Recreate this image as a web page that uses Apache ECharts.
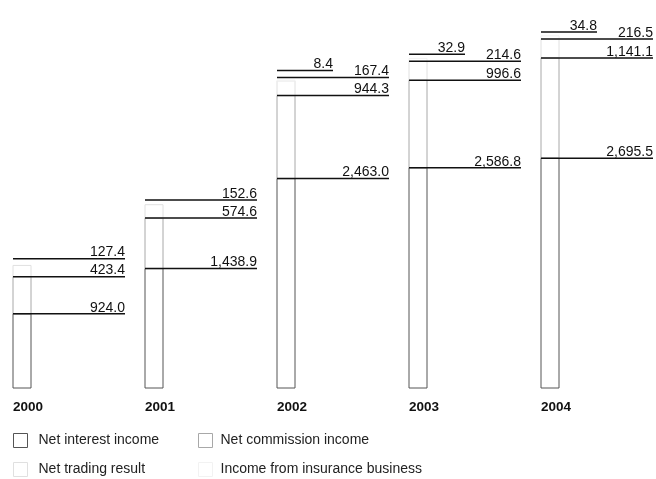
<!DOCTYPE html>
<html>
<head>
<meta charset="utf-8">
<script src="https://cdn.jsdelivr.net/npm/echarts@6/dist/echarts.min.js"></script>
<style>
html,body{margin:0;padding:0;background:#fff;}
#chart{width:656px;height:479px;}
</style>
</head>
<body>
<div id="chart"></div>
<script>
// ---- data ----
const years = ['2000', '2001', '2002', '2003', '2004'];
const netInterestIncome = [924.0, 1438.9, 2463.0, 2586.8, 2695.5];
const netCommissionIncome = [423.4, 574.6, 944.3, 996.6, 1141.1];
const netTradingResult = [127.4, 152.6, 167.4, 214.6, 216.5];
const insuranceIncome = [null, null, 8.4, 32.9, 34.8];
const seriesNames = ['Net interest income', 'Net commission income', 'Net trading result', 'Income from insurance business'];

// ---- presentation ----
const FONT = '"Liberation Sans", Arial, sans-serif';
const Y_MIN = 80, Y_MAX = 4450;
const BAR_W = 18;
const LINE_LEN = 112, SHORT_LEN = 56;
const GAP = 18, SMALL_GAP = 7;
const strokes = ['#555555', '#a8a8a8', '#e0e0e0', '#f2f2f2'];
const allSeries = [netInterestIncome, netCommissionIncome, netTradingResult, insuranceIncome];

function fmt(v) {
  const parts = v.toFixed(1).split('.');
  parts[0] = parts[0].replace(/\B(?=(\d{3})+(?!\d))/g, ',');
  return parts.join('.');
}

function segData(s) {
  const out = [];
  years.forEach((y, i) => {
    const v = allSeries[s][i];
    if (v == null) return;
    let base = 0;
    for (let k = 0; k < s; k++) base += allSeries[k][i] || 0;
    out.push([i, base, base + v]);
  });
  return out;
}

function segRender(s) {
  return function (params, api) {
    const i = api.value(0);
    const p0 = api.coord([i, Math.max(api.value(1), Y_MIN)]);
    const p1 = api.coord([i, api.value(2)]);
    return {
      type: 'rect',
      shape: { x: p0[0], y: p1[1], width: BAR_W, height: p0[1] - p1[1] },
      style: { fill: '#ffffff', stroke: strokes[s], lineWidth: 1 }
    };
  };
}

function labelRender(params, api) {
  const i = api.value(0);
  const children = [];
  let cum = 0;
  let prevY = null;
  allSeries.forEach((arr, s) => {
    const v = arr[i];
    if (v == null) return;
    cum += v;
    const p = api.coord([i, cum]);
    let y = p[1];
    if (prevY != null) {
      const g = s === 3 ? SMALL_GAP : GAP;
      y = Math.min(y, prevY - g);
    }
    prevY = y;
    const x0 = p[0];
    const len = s === 3 ? SHORT_LEN : LINE_LEN;
    children.push({
      type: 'line',
      shape: { x1: x0, y1: y, x2: x0 + len, y2: y },
      style: { stroke: '#111111', lineWidth: 1.5 }
    });
    children.push({
      type: 'text',
      style: {
        text: fmt(v), x: x0 + len, y: y + 1,
        align: 'right', verticalAlign: 'bottom',
        fontSize: 14, fontFamily: FONT, fill: '#111111'
      }
    });
  });
  return { type: 'group', children: children };
}

const series = seriesNames.map((name, s) => ({
  name: name,
  type: 'custom',
  renderItem: segRender(s),
  encode: { x: 0, y: [1, 2] },
  itemStyle: { color: '#ffffff', borderColor: strokes[s], borderWidth: 1 },
  data: segData(s),
  z: 2
}));
series.push({
  name: 'labels',
  type: 'custom',
  renderItem: labelRender,
  encode: { x: 0, y: 1 },
  data: years.map((y, i) => [i, 0]),
  silent: true,
  z: 5
});

function legendFor(idx, left, top, pad) {
  return {
    data: [{ name: seriesNames[idx], icon: 'rect',
      itemStyle: { color: '#ffffff', borderColor: strokes[idx], borderWidth: 1 } }],
    left: left, top: top,
    itemWidth: 14, itemHeight: 14,
    padding: 0,
    selectedMode: false,
    textStyle: { fontSize: 14, fontFamily: FONT, color: '#222222', padding: [0, 0, 0, pad] }
  };
}

const chart = echarts.init(document.getElementById('chart'), null, { renderer: 'canvas' });
chart.setOption({
  animation: false,
  backgroundColor: '#ffffff',
  grid: { left: 13, right: 115, top: 4, bottom: 91, containLabel: false },
  xAxis: {
    type: 'category',
    data: years,
    boundaryGap: false,
    axisLine: { show: false },
    axisTick: { show: false },
    splitLine: { show: false },
    axisLabel: {
      interval: 0, align: 'left', margin: 12,
      fontSize: 13.5, fontWeight: 'bold', fontFamily: FONT, color: '#111111'
    }
  },
  yAxis: {
    type: 'value', min: Y_MIN, max: Y_MAX, show: false,
    splitLine: { show: false }
  },
  legend: [
    legendFor(0, 13, 433, 6),
    legendFor(1, 198, 433, 3),
    legendFor(2, 13, 462, 6),
    legendFor(3, 198, 462, 3)
  ],
  series: series
});
</script>
</body>
</html>
